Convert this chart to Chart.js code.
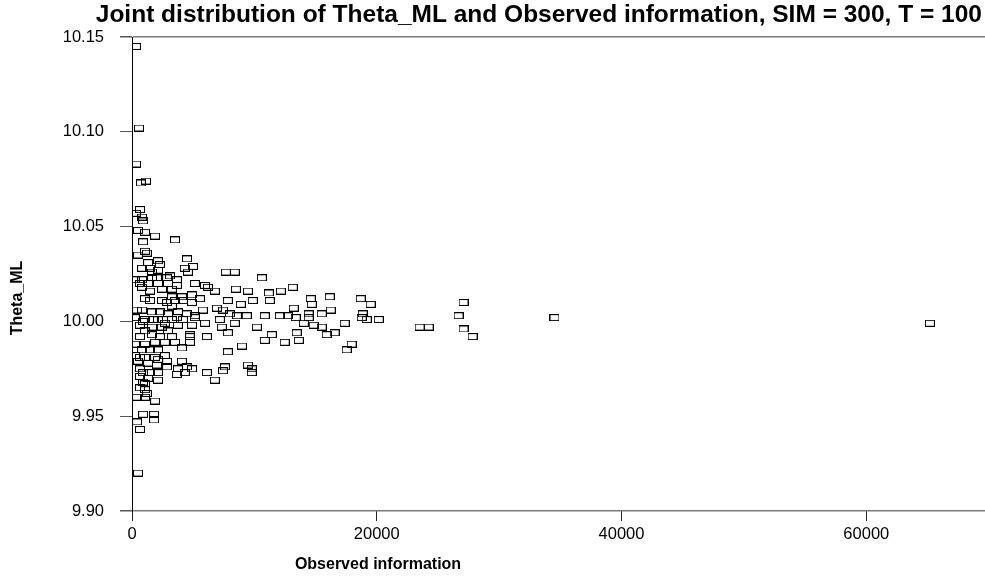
<!DOCTYPE html>
<html>
<head>
<meta charset="utf-8">
<script src="https://cdn.jsdelivr.net/npm/chart.js@4.4.1/dist/chart.umd.min.js"></script>
<style>
  html, body { margin: 0; padding: 0; background: #fff; }
  #chart { display: block; }
</style>
</head>
<body>
<canvas id="chart" width="985" height="581"></canvas>
<script>
// Joint distribution of Theta_ML vs observed information (SIM = 300, T = 100)
const titleText = 'Joint distribution of Theta_ML and Observed information, SIM = 300, T = 100';
const xTitle = 'Observed information';
const yTitle = 'Theta_ML';

const xTicks = [0, 20000, 40000, 60000];
const yTicks = [9.90, 9.95, 10.00, 10.05, 10.10, 10.15];

// observed information of each draw
const obsInfo = [
  330, 570, 330, 730, 1140, 650, 330, 820, 900, 490,
  1060, 1880, 900, 3510, 1060, 490, 2120, 4490, 1310, 2280,
  4980, 4320, 1470, 820, 2120, 1630, 240, 820, 1630, 2860,
  3670, 4570, 650, 1310, 2120, 2940, 5140, 5960, 6200, 820,
  2450, 1470, 3260, 1060, 1470, 3260, 4080, 4900, 2450, 2860,
  3510, 4160, 4900, 5550, 3260, 5790, 820, 1630, 2280, 2940,
  3750, 4490, 5140, 240, 1060, 2120, 3260, 4160, 5140, 650,
  1630, 2690, 3750, 4900, 5960,
  1220, 3100, 2040, 3670, 6770, 6940, 410, 7430, 900, 1710,
  2530, 3670, 7180, 8400, 7340,
  7670, 8400, 10610, 8490, 9470, 11180, 12160, 13140, 11260, 9870,
  7830, 8890, 13220, 8000, 8570, 9380, 10850, 12080, 12730, 13380,
  10200, 11420, 13460, 7830, 10850, 12480, 8980, 7830, 14610, 16160,
  14690, 15500, 14440, 14440, 16240, 18690, 19500, 18850, 18770, 19180,
  20160, 17380, 15500, 14850, 14040, 16560, 15910, 13630, 17950, 17540,
  23500, 24240, 27090, 26680, 27090, 27830, 34520, 65200,
  1060, 2450, 2940, 4730, 4730, 6120, 650, 1630, 2280, 3260,
  3510, 4730, 240, 1060, 1880, 2690, 4080, 2120, 1470, 820,
  240, 650, 1060, 1880, 2690, 2120, 490, 1310, 2040, 2860,
  4080, 4490, 3750, 4900, 3670, 4320, 6120, 650, 900, 1470,
  2120, 650, 1310, 2120, 1060, 900, 650, 1060, 1220, 410,
  1060, 1880, 900, 1800, 1800, 410, 650, 490, 6770, 7590,
  7430, 9470, 9790, 9790, 2860
];

// ML estimate of theta for the same draws
const thetaML = [
  10.145, 10.102, 10.083, 10.073, 10.074, 10.059, 10.057, 10.055, 10.053, 10.048,
  10.047, 10.045, 10.042, 10.043, 10.037, 10.035, 10.032, 10.033, 10.031, 10.030,
  10.029, 10.028, 10.028, 10.028, 10.027, 10.026, 10.022, 10.022, 10.023, 10.023,
  10.022, 10.026, 10.020, 10.020, 10.020, 10.020, 10.020, 10.019, 10.018, 10.018,
  10.017, 10.016, 10.017, 10.012, 10.011, 10.013, 10.013, 10.014, 10.011, 10.010,
  10.011, 10.011, 10.010, 10.012, 10.008, 10.006, 10.006, 10.005, 10.005, 10.004,
  10.005, 10.004, 10.003, 10.002, 10.001, 10.001, 10.001, 10.001, 10.002, 9.998,
  9.997, 9.999, 9.998, 9.998, 9.999,
  10.036, 10.024, 10.023, 10.019, 10.016, 10.007, 10.006, 10.006, 10.000, 10.001,
  10.001, 10.002, 10.001, 9.999, 9.997,
  10.026, 10.026, 10.023, 10.017, 10.016, 10.015, 10.016, 10.018, 10.011, 10.011,
  10.011, 10.009, 10.007, 10.004, 10.003, 10.003, 10.003, 10.003, 10.003, 10.002,
  9.997, 9.993, 9.994, 9.994, 9.990, 9.989, 9.987, 9.984, 10.012, 10.013,
  10.009, 10.004, 10.004, 10.002, 10.006, 10.012, 10.009, 10.004, 10.002, 10.001,
  10.001, 9.999, 9.997, 9.998, 9.999, 9.994, 9.993, 9.990, 9.988, 9.985,
  9.997, 9.997, 10.010, 10.003, 9.996, 9.992, 10.002, 9.999,
  9.995, 9.997, 9.995, 9.993, 9.992, 9.992, 9.992, 9.993, 9.992, 9.992,
  9.989, 9.989, 9.988, 9.988, 9.989, 9.989, 9.986, 9.985, 9.985, 9.985,
  9.982, 9.981, 9.981, 9.981, 9.982, 9.980, 9.979, 9.978, 9.977, 9.976,
  9.979, 9.976, 9.975, 9.975, 9.972, 9.973, 9.973, 9.975, 9.973, 9.973,
  9.973, 9.971, 9.970, 9.969, 9.967, 9.968, 9.965, 9.964, 9.962, 9.960,
  9.960, 9.958, 9.951, 9.951, 9.948, 9.947, 9.943, 9.920, 9.969, 9.976,
  9.974, 9.977, 9.975, 9.973, 9.979
];

const FONT = '"Liberation Sans", Arial, Helvetica, sans-serif';

// hollow rectangle marker
function makeMarker() {
  const c = document.createElement('canvas');
  c.width = 10; c.height = 7;
  const g = c.getContext('2d');
  g.strokeStyle = '#000';
  g.lineWidth = 1.1;
  g.strokeRect(0.5, 0.5, 9, 6);
  return c;
}

const isEdge = v => Math.abs(v - 9.90) < 1e-6 || Math.abs(v - 10.15) < 1e-6;

// title and axis titles sit off-centre in the original, draw them by hand
const textLayer = {
  id: 'textLayer',
  afterDraw(chart) {
    const ctx = chart.ctx;
    ctx.save();
    ctx.fillStyle = '#000';
    ctx.font = 'bold 24.5px ' + FONT;
    ctx.textAlign = 'right';
    ctx.textBaseline = 'alphabetic';
    ctx.fillText(titleText, 982, 22);

    ctx.font = 'bold 16px ' + FONT;
    ctx.textAlign = 'center';
    ctx.textBaseline = 'middle';
    ctx.fillText(xTitle, 378, 565);
    ctx.translate(18, 298);
    ctx.rotate(-Math.PI / 2);
    ctx.fillText(yTitle, 0, 0);
    ctx.restore();
  }
};

const points = obsInfo.map((x, i) => ({ x, y: thetaML[i] }));

new Chart(document.getElementById('chart'), {
  type: 'scatter',
  data: {
    datasets: [{
      label: 'draws',
      data: points,
      pointStyle: makeMarker(),
      pointRadius: 5,
      borderColor: '#000'
    }]
  },
  options: {
    responsive: false,
    animation: false,
    layout: { autoPadding: false, padding: { left: 0, right: 0, top: 37, bottom: 0 } },
    plugins: {
      legend: { display: false },
      tooltip: { enabled: false },
      title: { display: false }
    },
    scales: {
      x: {
        type: 'linear',
        min: 0,
        max: 69700,
        afterBuildTicks: s => { s.ticks = xTicks.map(v => ({ value: v })); },
        afterFit: s => { s.height = 70; s.paddingLeft = 0; s.paddingRight = 0; },
        ticks: {
          includeBounds: false,
          color: '#000',
          padding: 4,
          maxRotation: 0,
          font: { family: FONT, size: 16.5 },
          callback: v => String(v)
        },
        grid: { drawOnChartArea: false, tickLength: 10, tickColor: '#222', tickWidth: 1 },
        border: { display: false }
      },
      y: {
        type: 'linear',
        min: 9.90,
        max: 10.15,
        afterBuildTicks: s => { s.ticks = yTicks.map(v => ({ value: v })); },
        afterFit: s => { s.width = 132; },
        ticks: {
          color: '#000',
          padding: 16,
          font: { family: FONT, size: 16.5 },
          callback: v => v.toFixed(2)
        },
        grid: {
          drawOnChartArea: true,
          tickLength: 12,
          color: c => (c.tick && isEdge(c.tick.value)) ? '#7a7a7a' : 'rgba(0,0,0,0)',
          lineWidth: c => (c.tick && isEdge(c.tick.value)) ? 1.5 : 1,
          tickColor: '#555'
        },
        border: { display: true, color: '#000', width: 1 }
      }
    }
  },
  plugins: [textLayer]
});
</script>
</body>
</html>
